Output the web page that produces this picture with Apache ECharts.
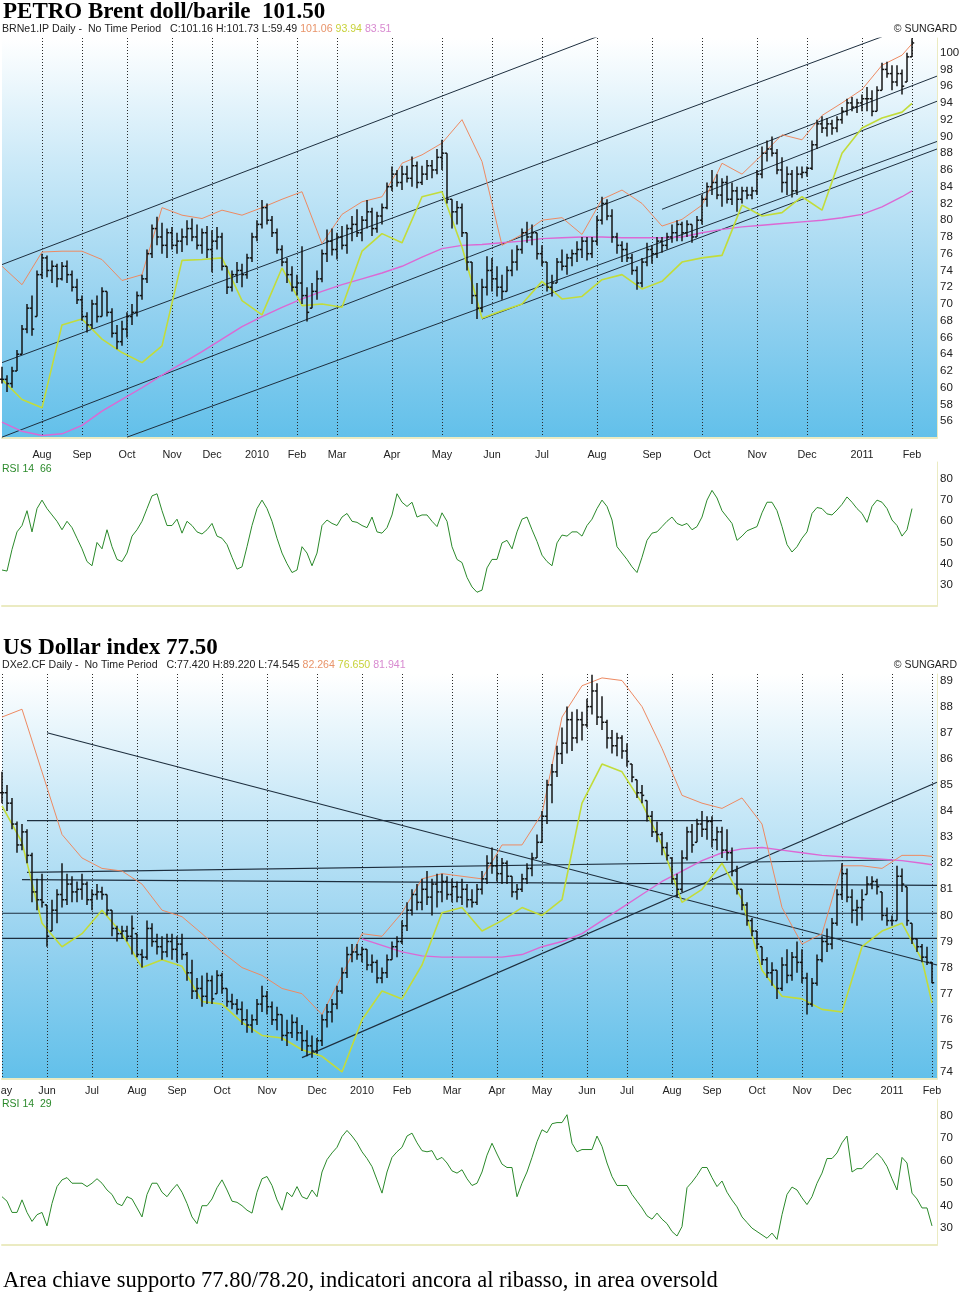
<!DOCTYPE html>
<html><head><meta charset="utf-8">
<script src="https://cdn.jsdelivr.net/npm/echarts@6/dist/echarts.min.js"></script>
<style>html,body{margin:0;padding:0;background:#fff;}#c{width:960px;height:1295px;}</style>
</head><body><div id="c"></div>
<script>
// ---------- DATA ----------
const SLOTS = 188;              // sampling slots on the time axis
const BAND_STEP = 4;            // band/MA samples every 4 slots

const brentMonths = [[8,'Aug'],[16,'Sep'],[25,'Oct'],[34,'Nov'],[42,'Dec'],[51,'2010'],[59,'Feb'],[67,'Mar'],[78,'Apr'],[88,'May'],[98,'Jun'],[108,'Jul'],[119,'Aug'],[130,'Sep'],[140,'Oct'],[151,'Nov'],[161,'Dec'],[172,'2011'],[182,'Feb']];
const dxyMonths = [[0,'May'],[9,'Jun'],[18,'Jul'],[27,'Aug'],[35,'Sep'],[44,'Oct'],[53,'Nov'],[63,'Dec'],[72,'2010'],[80,'Feb'],[90,'Mar'],[99,'Apr'],[108,'May'],[117,'Jun'],[125,'Jul'],[134,'Aug'],[142,'Sep'],[151,'Oct'],[160,'Nov'],[168,'Dec'],[178,'2011'],[186,'Feb']];

const brentHigh = [62.5,61.5,62.5,64.5,67.5,70,71,74,76,75.8,
75.2,74.8,75,75.2,74,73,71,69,70.5,71,
72,71.5,69.5,67.5,68,69,70,71.5,73.5,76.5,
79.5,80.4,79.7,79,79.2,78.5,79,80,80.2,79.5,
79,79.3,78.8,79.2,78.5,74.5,74,75,74.8,76,
78.5,80,82.4,82,80.5,79,77,75.5,74.5,73.5,
76.9,72,72.5,74,76.5,78.9,79,78.5,79.3,79.5,
80.5,81.3,80.5,82.4,81.5,81,82,84.5,86.4,86,
86.5,86.5,87.6,87,86.5,87.2,87.2,88.5,89.6,88,
82.5,82.3,82,78.5,75,72.5,73,75.7,75.5,74.5,
73.5,74.5,76.5,77,79,79.8,79.5,78.5,77,75,
73.5,75.5,76.5,76,76.5,77.5,78,78,78,80.5,
82.8,82.5,81.3,78.5,77.5,77.3,76,74.5,75.5,77.3,
77,78,78,78.5,79.5,80,79.8,80,79.5,80.5,
83,84.5,86,85.5,85,85.3,84.5,84,84,84,
84,86,88.8,89.5,90,88.5,87.5,86.4,86,86.4,
86.4,86.4,89.5,92,92.4,92.2,92,92.4,93.5,94.5,
94.7,94.5,95,95.9,95.5,96,98.8,98.9,98.5,98.5,
98,100,101.73];
const brentLow = [60.5,59.5,60,62,64,66.5,66.2,68.5,73,73.2,
72.5,72,72.8,72.5,71.5,70,68,66.6,67,67.8,
68.5,68.5,66,64.6,65,66,67.5,68.5,70.5,72.5,
75.5,77,76,75.5,76.5,76,76.2,77,77.5,76.5,
76,75.5,73.8,76.5,74,71.2,71.5,72.5,72,73,
75,77.5,79,79.5,78,76,74.5,72.5,71.5,71,
70,67.9,69.5,70.5,72.6,75,75.8,75.3,76.5,76,
77.5,78,77.5,79,78.1,78.5,79.5,81.3,83.5,84,
83.6,84.5,84,83.8,84.2,84.8,85,85.5,86,82,
79,79.5,78,74,70,68.2,69,71,71.5,70.9,
70.5,71.5,73.3,74,76,77.3,77,75.3,74.5,71.5,
70.9,72.5,74,73.5,74.5,75,75.5,75.2,75.5,77,
79.5,80,77.3,76,75,75,73.5,71.7,72,74.5,
74.8,75.5,76.1,76.5,77.3,77.5,77.5,78,77.3,78,
79.5,81.6,83,82.5,81.6,82,81.8,81,82,82.5,
82.5,83,85,87,87.6,85.5,83.3,83,82.7,83,
85,85.2,86,88.5,90.4,90,90.2,90.5,91.5,92.5,
93,92.8,93,93,92.4,93,95.5,97,95.5,96,
95,96.5,99.5];
const brentClose = [61,60.5,62,64,67,69.5,67,73.5,75.5,74,
74.5,73,74.5,73.5,72,70.5,68.5,67.5,70,68.5,
71.5,69,66.5,65.5,67,68.5,69,71,73,76,
79,78,77,78.5,77,77.5,78,79,78,77,
78.5,76.5,77.5,78,74.5,72,73.5,74,73.5,75.5,
78,79.5,81.5,80,78.5,76.5,75,73.5,72,72.5,
71,69,71.5,73,76,77.5,76.5,78,77,79,
79.5,78.5,80,81,79,80.5,81.5,84,85.5,84.5,
85.5,85,86.5,84.5,85.5,86.5,86,87.5,88,82.5,
81,81.5,78.5,75,71,69.5,72,74,73,72,
71.5,74,75,76.5,78.5,78,78.5,76,75,72,
72.5,75,74.5,75.5,76,76.5,77.5,76,77.5,80,
82,80.5,78,77,76.5,75.5,74,72.5,75,76.5,
76,77.5,77,78,78.5,79.5,78.5,79.5,78,80,
82.5,84,84.5,83,84.5,82.5,83.5,82.5,83.5,83,
83.5,85.5,88,88.5,88,86,84.5,85.5,83.5,85.5,
85.7,86.2,89,91.5,91,91.5,91,92,93,94,
93.5,94,94.5,94.5,93,95.5,98,97.5,96.5,97.5,
96,99.5,101.16];
const brentUpper = [74.5,72.3,76.2,76.3,76.3,75.3,72.8,73.5,81.5,80.6,80.2,81.2,80.6,81.5,82.5,83.4,77.2,80.7,82.2,82.8,86.8,87.8,89.2,92,87,77,78.3,80,80.3,78.3,82.5,83.6,82,79.3,80.1,81.8,86.8,85.5,87.8,90.2,89.6,92.5,94,95.6,98.5,99.7,101.06];
const brentLower = [61,58.6,57.6,67.5,68.2,65.8,64.2,63,65,75.2,75.3,75.5,70.4,68.7,74.3,69.8,70,69.6,76.3,78.4,77.3,82.8,83.4,76.8,68.3,69.2,70,72.7,70.6,70.9,72.9,73.5,71.8,72.7,75,75.5,75.8,81.8,80.5,80.9,82.8,81.2,88,91,92.2,92.9,93.94];
const brentMA = [55.9,54.8,54.3,54.5,55.5,57.2,58.6,60,61.5,62.9,64.3,65.8,67.3,68.5,69.6,70.6,71.5,72.3,73,73.7,74.5,75.6,76.6,77,77.1,77.3,77.5,77.8,77.9,78,78,77.9,77.9,77.9,78,78.5,78.9,79.2,79.4,79.6,79.8,80,80.3,80.7,81.6,82.8,83.51];
const brentTrend = [[0,74.7,119,101.9],[0,63.0,176,101.9],[0,54.1,187,97.2],[25,54.1,187,89.4],[96,68.2,187,88.5],[132,81.3,187,94.2]];
const brentRSI = [37,36.5,46.7,55,58,65,55,66,70,66,
63,60,56,60,57,52,47,41,39,50,
47,56,48,42,41,45,53,56,60,66,
72,73,65,58,58,61,54.4,60,58,55,
54,56,59,53,52,49,43,37.4,38.5,48,
58,66,70,66,60,52,45,40,35.8,37,
48,45,39,45,58,60.6,59,58,62,63.7,
60,59.5,58,57,62,55,54.4,57,63,73,
69,67,69,62,63,63,60,57.5,64,60,
48,42,40.5,33.5,29,26.5,27.5,38,42,42,
49.8,51,47,55,61,62,56,50.5,44,41,
39,49.8,53.5,53,55,55,53,58,61,66,
70,67,60.6,48,45,42,38.5,35.8,43,51,
54.4,55,57.5,60,62,59,58,59,56,57.5,
62,70,74.6,71,65,62,59,51,53,55.5,
56.5,57.5,64,69,69,65,57.5,49,45.5,48,
52,55,63.7,66.5,66,63.5,63,65.3,68,71.5,
69,66,63.7,59.5,67,70,69,66,60.6,58,
53,56,66];

const dxyHigh = [85.5,85,84.5,83.6,83.5,83.3,82.4,81.4,81.6,80.4,
80.6,81,82,81.6,81.5,81.3,81.6,81.3,81,81.2,
81.1,80.8,80.2,79.6,79.6,79.6,80,79.3,78.7,79.8,
79.7,79.3,79.2,79.3,79.3,79.2,79.3,78.6,78.3,77.6,
77.7,77.8,77.7,77.9,77.8,77.2,77,76.8,76.7,76.4,
76.2,76.8,77.3,77.1,76.7,76.5,76.2,76,76.2,76.1,
75.8,75.6,75.4,75.3,76.2,76.6,76.8,77.3,78,78.8,
78.9,78.9,78.8,78.7,78.5,78.3,78,78.5,79,79.2,
79.8,80.5,81,81.2,81.4,81.7,81.4,81.6,81.6,81.5,
81.4,81.3,81.4,81.2,81,81.2,81.7,82.3,82.6,82.3,
82.2,82.1,81.5,81.2,81.6,82,82.4,83.1,84,85.2,
85.8,86.5,87.2,88,87.8,87.9,87.8,88.3,89.22,88.9,
88.4,87.5,87.1,87,86.9,86.6,85.8,85.2,85,84.4,
84,83.6,83.2,82.8,82.2,81.6,82.5,83.4,83.5,83.7,
84,83.8,83.8,83.4,83.4,83.3,82.6,81.9,81,80.5,
79.9,79.4,78.8,78.4,78.2,77.9,78.4,78.7,78.6,79,
78.7,77.8,77.6,78.5,79.2,79.5,79.9,81,82,81.8,
81,80.6,81,81.5,81.5,81.4,80.9,80.3,80,81.9,
81.8,81.1,79.7,79.1,78.9,78.8,78.2];
const dxyLow = [84.3,84,83.3,82.4,82.5,82,80.5,80.2,80.3,78.8,
79.4,79.7,80.3,80.4,80.5,80.5,80.6,80.4,80.2,80.6,
80.6,80,79.2,79,79.1,79,78.5,78.4,78,78.3,
78.8,78.5,78.3,78.4,78.3,78.2,78.3,77.5,76.8,76.8,
76.5,76.6,76.6,77,77,76.5,76.4,76.2,75.8,75.5,
75.5,75.8,76.3,76.2,75.8,75.6,75.2,75,75.3,75.2,
74.8,74.6,74.545,74.7,75,75.7,75.9,76.4,77,77.6,
78.2,78.3,78.2,77.9,77.8,77.4,77.4,77.6,78.3,78.4,
78.9,79.4,80,80.2,80.2,80.4,80,80.3,80.5,80.6,
80.5,80.5,80.4,80.3,80.3,80.4,80.8,81.2,81.6,81.3,
81.2,81.2,80.7,80.6,80.9,81.2,81.5,82.2,82.8,83.5,
84.3,85.3,85.8,86.2,86.3,86.6,86.7,87.2,87.7,87.3,
87.1,86.4,86.2,86.1,86,85.7,85.1,84.5,84.3,83.6,
83,82.8,82.3,82.1,81.2,80.7,80.9,82.1,82.4,82.8,
83,82.9,82.6,82.5,82.2,82.1,81.5,80.8,80.2,79.6,
79.2,78.7,78.1,77.6,77.3,76.8,77.1,77.4,77.5,77.8,
77.4,76.2,76.5,77.3,78.2,78.6,78.7,79.6,80.6,80.5,
79.7,79.6,79.8,80.8,81,80.8,79.8,79.6,79.6,79.8,
80.9,79.6,78.9,78.6,78.2,78.1,77.4];
const dxyClose = [84.7,84.3,83.5,82.7,83.2,82.3,80.9,80.6,80.5,79.2,
80.2,80.8,80.6,81.2,80.9,81,81.2,80.6,80.8,80.9,
80.8,80.2,79.5,79.3,79.4,79.2,79.5,78.5,78.4,79.5,
79,78.8,78.6,79,78.7,78.9,78.5,77.8,77.1,77.2,
76.9,77.5,76.8,77.7,77.2,76.7,76.6,76.4,76,75.8,
76,76.6,76.9,76.5,76,76.2,75.4,75.5,75.9,75.5,
75.2,75,74.8,75.2,76,76.3,76.6,77.1,77.8,78.5,
78.6,78.5,78.7,78.1,78.2,77.6,77.8,78.3,78.8,79,
79.6,80.2,80.8,80.5,81,80.7,81.2,80.9,81.3,80.8,
81.1,80.7,81,80.6,80.5,81,81.4,82,81.9,81.6,
82,81.5,80.9,81,81.4,81.8,82.2,82.8,83.8,85,
85.5,86.2,86.6,87.5,86.8,87.5,87.3,88,88.6,87.6,
87.4,86.8,86.5,86.8,86.3,85.9,85.3,84.7,84.6,83.8,
83.2,83.1,82.6,82.3,81.4,81,82.2,83.2,82.7,83.5,
83.3,83.6,82.9,83.2,82.5,82.4,81.7,81,80.4,79.8,
79.4,78.9,78.3,77.8,77.9,77.2,78.1,77.7,78.4,78.2,
77.6,76.6,77.4,78.3,79,78.9,79.7,80.8,81.6,80.7,
80.2,80.3,80.6,81.2,81.3,81.1,80,79.8,79.8,81.5,
81.2,79.8,79.1,78.8,78.4,78.2,77.42];
const dxyUpper = [87.6,87.9,85.5,83.1,82.2,81.8,81.7,81.2,80.2,79.95,79.3,78.6,78,77.7,77.2,77,76.2,77.7,79.3,79.2,80.1,81.4,81.6,81.5,81.4,82.7,82.7,83.9,87.6,88.8,89.1,89,88,86.4,84.6,84.3,84.1,84.5,83.5,80.3,78.9,79.3,81.9,81.9,81.8,82.3,82.3,82.26];
const dxyLower = [84.2,82.8,79.7,78.8,79.3,80.2,79.3,78,78.3,78.05,76.7,76.6,75.9,75.4,75.3,74.85,74.6,74,76,77.1,76.8,78.1,80.1,80.3,79.4,79.8,80.3,80,80.6,84.3,85.8,85.5,84.3,82.7,80.5,81,82,80.6,77.9,76.9,76.8,76.4,76.3,78.8,79.4,79.7,78.3,76.65];
const dxyMAStart = 72;
const dxyMA = [79.1,78.85,78.6,78.45,78.4,78.4,78.4,78.4,78.5,78.8,79,79.3,79.8,80.3,80.8,81.3,81.7,82.1,82.4,82.55,82.6,82.5,82.4,82.3,82.25,82.2,82.15,82.1,82,81.94];
const dxyTrend = [[9,87.0,187,78.1],[60,74.55,187,85.1],[5,83.63,144,83.63],[5,81.65,178,82.12],[4,81.37,187,81.15],[0,80.08,187,80.08],[0,79.12,187,79.12]];
const dxyRSI = [44,42,37,37,42.6,37,33,36,37,31,
41,48.5,51.5,52.5,50,50,50,48.5,50,52,
50,47,45,41,40,44,43,39,35,45,
50,50,46,44,47,49.5,46,41,35,32,
40,40,43,48,51.5,47,42,41.5,40,38,
36.7,46,52,53,49,42.6,38,46,44,48.5,
44,43,47,44,55,60.5,63.5,66,70.8,73.5,
71,68,64,61,57.4,51.5,45.6,55,61.5,64,
66,71,72.3,68,64.5,64,64.5,60.4,61.5,59,
55.5,54.5,56,52,49,50,55,62.5,67.8,63,
58.5,57,57,44,50,55,61.5,68.5,73.8,72.5,
76.5,77,77,80.5,67.8,64,65,65,65,71,
66.4,59,53,49,49,49,45,42,39,35.5,
34,36.7,34,32,28.5,26.5,30.7,48,50.5,53.5,
57,57,52.5,48.5,51,46,42.5,39.5,35,32.5,
30,28.5,27,25.5,27.8,25,36,45,48.3,47,
43.5,40.5,44,50,54.5,61,61,63.5,68,71,
55,56.5,56.5,59,61,63.4,61,57.5,52,47,
61.5,59,45.6,43,39,39,31];

// ---------- BUILD ----------
function cats(months){ const a = new Array(SLOTS).fill(''); months.forEach(m => { a[m[0]] = m[1]; }); return a; }
function ohlc(hi, lo, cl){ return cl.map((c, i) => { const p = i ? cl[i-1] : c; const o = Math.min(hi[i], Math.max(lo[i], p)); return [i, o, hi[i], lo[i], c]; }); }
function band(vals, start, last){ return vals.map((v, k) => [Math.min(start + k*BAND_STEP, last), v]); }

const cats1 = cats(brentMonths), cats2 = cats(dxyMonths);
const SANS = 'Liberation Sans, Arial, sans-serif';
const SERIF = 'Liberation Serif, Times New Roman, serif';
const bg = new echarts.graphic.LinearGradient(0,0,0,1,[{offset:0,color:'#ffffff'},{offset:0.3,color:'#cdeaf8'},{offset:0.65,color:'#98d3f0'},{offset:1,color:'#62c0ea'}]);
const paleLine = {show:true, lineStyle:{color:'#ebebc2', width:2}};

function ohlcItem(params, api){
  const i = api.value(0);
  const pO = api.coord([i, api.value(1)]), pH = api.coord([i, api.value(2)]);
  const pL = api.coord([i, api.value(3)]), pC = api.coord([i, api.value(4)]);
  const st = {stroke:'#141414', lineWidth:1.5};
  return {type:'group', children:[
    {type:'line', shape:{x1:pH[0], y1:pH[1], x2:pL[0], y2:pL[1]}, style:st},
    {type:'line', shape:{x1:pO[0]-2.2, y1:pO[1], x2:pO[0], y2:pO[1]}, style:st},
    {type:'line', shape:{x1:pC[0], y1:pC[1], x2:pC[0]+2.2, y2:pC[1]}, style:st}
  ]};
}
function mainX(gi, data, margin){
  return {type:'category', gridIndex:gi, data, boundaryGap:false, axisLine:paleLine, axisTick:{show:false},
    axisLabel:{interval:(i,v)=>v!=='', margin, fontSize:10.8, color:'#222', fontFamily:SANS},
    splitLine:{show:true, interval:(i,v)=>v!=='', lineStyle:{color:'#2a2a2a', type:[1,2], width:1}}};
}
function rsiX(gi, data){
  return {type:'category', gridIndex:gi, data, boundaryGap:false, axisLine:paleLine, axisTick:{show:false}, axisLabel:{show:false}, splitLine:{show:false}};
}
function yAx(gi, min, max, interval, fmt){
  return {type:'value', gridIndex:gi, position:'right', min, max, interval, splitLine:{show:false},
    axisLine:{show:true, lineStyle:{color:'#ebebc2', width:1}}, axisTick:{show:false},
    axisLabel:{margin:3, fontSize:11.5, color:'#222', fontFamily:SANS, formatter:fmt}};
}
const near = (v, m) => Math.abs(v/m - Math.round(v/m)) < 1e-6;

function lineS(xi, data, color, width, z){
  return {type:'line', xAxisIndex:xi, yAxisIndex:xi, data, showSymbol:false, symbol:'none', silent:true, z,
    lineStyle:{color, width}, clip:true};
}
const series = [];
brentTrend.forEach(t => series.push(lineS(0, [[t[0],t[1]],[t[2],t[3]]], '#1d2e3e', 1, 2)));
series.push(lineS(0, band(brentMA, 0, 182), '#dc68d4', 1.4, 3));
series.push(lineS(0, band(brentLower, 0, 182), '#c2dc3a', 1.6, 3));
series.push(lineS(0, band(brentUpper, 0, 182), '#ee8a62', 1, 3));
series.push({type:'custom', xAxisIndex:0, yAxisIndex:0, renderItem:ohlcItem, data:ohlc(brentHigh, brentLow, brentClose), encode:{x:0, y:[1,2,3,4]}, z:4, silent:true});
series.push(lineS(1, brentRSI, '#2b8a2b', 1, 3));
dxyTrend.forEach(t => series.push(lineS(2, [[t[0],t[1]],[t[2],t[3]]], '#1d2e3e', 1.1, 2)));
series.push(lineS(2, band(dxyMA, dxyMAStart, 186), '#dc68d4', 1.4, 3));
series.push(lineS(2, band(dxyLower, 0, 186), '#c2dc3a', 1.6, 3));
series.push(lineS(2, band(dxyUpper, 0, 186), '#ee8a62', 1, 3));
series.push({type:'custom', xAxisIndex:2, yAxisIndex:2, renderItem:ohlcItem, data:ohlc(dxyHigh, dxyLow, dxyClose), encode:{x:0, y:[1,2,3,4]}, z:4, silent:true});
series.push(lineS(3, dxyRSI, '#2b8a2b', 1, 3));

const sub = (t, o, y, m) => ({text:'{k|' + t + ' }{o|' + o + ' }{y|' + y + ' }{m|' + m + '}'});
const rs = c => ({color:c, fontSize:10.6, fontFamily:SANS, fontWeight:'normal'});
const subRich = {k:rs('#222'), o:rs('#e8946a'), y:rs('#c8d23a'), m:rs('#d88ad0')};
const subStyle = {fontWeight:'normal', fontSize:10.6, fontFamily:SANS, rich:subRich};

const gridBase = {left:2, width:935, outerBoundsMode:'none', containLabel:false, borderWidth:0};
const option = {
  animation:false,
  backgroundColor:'#ffffff',
  textStyle:{fontFamily:SANS},
  title:[
    {text:'PETRO Brent doll/barile  101.50', left:3, top:1, padding:0, textStyle:{fontFamily:SERIF, fontWeight:'bold', fontSize:23, color:'#000'}},
    Object.assign(sub('BRNe1.IP Daily -  No Time Period   C:101.16 H:101.73 L:59.49', '101.06', '93.94', '83.51'), {left:2, top:24, padding:0, textStyle:subStyle}),
    {text:'© SUNGARD', right:3, top:24, padding:0, textStyle:{fontFamily:SANS, fontSize:10.5, color:'#222', fontWeight:'normal'}},
    {text:'RSI 14  66', left:2, top:464, padding:0, textStyle:{fontFamily:SANS, fontSize:10.5, color:'#2b8a2b', fontWeight:'normal'}},
    {text:'US Dollar index 77.50', left:3, top:637, padding:0, textStyle:{fontFamily:SERIF, fontWeight:'bold', fontSize:23, color:'#000'}},
    Object.assign(sub('DXe2.CF Daily -  No Time Period   C:77.420 H:89.220 L:74.545', '82.264', '76.650', '81.941'), {left:2, top:660, padding:0, textStyle:subStyle}),
    {text:'© SUNGARD', right:3, top:660, padding:0, textStyle:{fontFamily:SANS, fontSize:10.5, color:'#222', fontWeight:'normal'}},
    {text:'RSI 14  29', left:2, top:1099, padding:0, textStyle:{fontFamily:SANS, fontSize:10.5, color:'#2b8a2b', fontWeight:'normal'}},
    {text:'Area chiave supporto 77.80/78.20, indicatori ancora al ribasso, in area oversold', left:3, top:1270, padding:0, textStyle:{fontFamily:SERIF, fontWeight:'normal', fontSize:22.5, color:'#000'}}
  ],
  grid:[
    Object.assign({top:38, height:400, show:true, backgroundColor:bg}, gridBase),
    Object.assign({top:462, height:144, show:false}, gridBase),
    Object.assign({top:674, height:404.5, show:true, backgroundColor:bg}, gridBase),
    Object.assign({top:1099, height:146, show:false}, gridBase)
  ],
  xAxis:[mainX(0, cats1, 11.5), rsiX(1, cats1), mainX(2, cats2, 7.5), rsiX(3, cats2)],
  yAxis:[
    yAx(0, 54, 101.75, 2, v => (near(v,2) && v >= 56 && v <= 100) ? String(Math.round(v)) : ''),
    yAx(1, 20, 88, 10, v => (near(v,10) && v >= 30 && v <= 80) ? String(Math.round(v)) : ''),
    yAx(2, 73.75, 89.25, 0.25, v => (near(v,1) && v >= 74 && v <= 89) ? String(Math.round(v)) : ''),
    yAx(3, 22.5, 87.5, 2.5, v => (near(v,10) && v >= 30 && v <= 80) ? String(Math.round(v)) : '')
  ],
  series
};
const chart = echarts.init(document.getElementById('c'));
chart.setOption(option);
</script>
</body></html>
